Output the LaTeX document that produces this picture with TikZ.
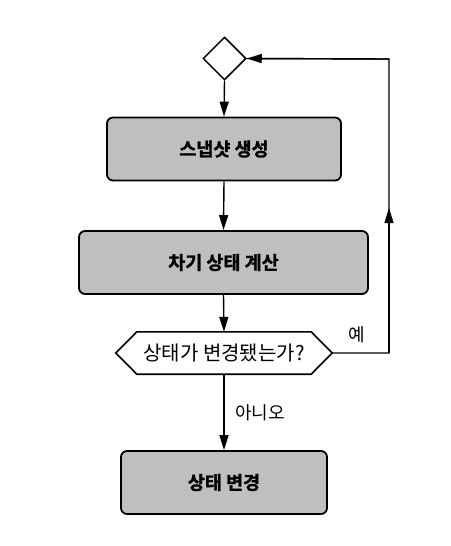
\documentclass[tikz,border=0pt]{standalone}
\usepackage{fontspec}
\setmainfont{Noto Sans CJK KR}
\newfontfamily\kr{Noto Sans CJK KR}
\newfontfamily\krb[FakeBold=1.5]{Noto Sans CJK KR Bold}
\usetikzlibrary{shapes.geometric,arrows.meta}
\begin{document}
\begin{tikzpicture}[x=1pt,y=-1pt,
  procbox/.style={draw=black, line width=1.8pt, rounded corners=6pt, fill=black!25,
    minimum width=#1, minimum height=63pt, inner sep=0pt, font=\krb\fontsize{18.5}{20}\selectfont},
  conn/.style={line width=1.4pt, -{Triangle[length=15pt,width=9pt]}},
  plain/.style={line width=1.4pt},
  lbl/.style={font=\kr\fontsize{18}{20}\selectfont, inner sep=0pt}]
\useasboundingbox (0,0) rectangle (450,546);
\fill[white] (0,0) rectangle (450,546);
\node[draw, diamond, line width=1.5pt, minimum width=43pt, minimum height=43pt, inner sep=0pt, aspect=1] (d) at (224.5,58.5) {};
\node[procbox=234pt] (b1) at (224,149) {스냅샷 생성};
\node[procbox=289pt] (b2) at (223.5,262.5) {차기 상태 계산};
\node[minimum width=216pt, minimum height=42pt, inner sep=0pt, font=\kr\fontsize{20}{22}\selectfont] (q) at (224,353) {상태가 변경됐는가?};
\draw[line width=1.6pt, line join=miter] (q.west) -- ([xshift=21pt]q.north west) -- ([xshift=-21pt]q.north east) -- (q.east) -- ([xshift=-21pt]q.south east) -- ([xshift=21pt]q.south west) -- cycle;
\node[procbox=206pt] (b3) at (224,482.5) {상태 변경};
\node[lbl] (yes) at (357,335) {예};
\node[lbl] (no) at (260,413) {아니오};
\coordinate (c1) at (389,353);
\coordinate (mid) at (389,208);
\coordinate (c2) at (389,59);
\draw[conn] (d.south) -- (b1.north);
\draw[conn] (b1.south) -- (b2.north);
\draw[conn] (b2.south) -- (q.north);
\draw[conn] (q.south) -- (b3.north);
\draw[plain] (q.east) -- (c1) -- (c2) -- (d.east);
\draw[conn] (c1) -- (mid);
\draw[conn] (c2) -- (d.east);
\end{tikzpicture}
\end{document}
